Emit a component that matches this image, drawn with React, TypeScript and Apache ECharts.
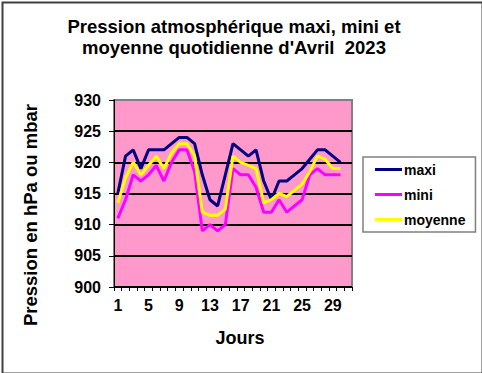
import React, { useEffect, useRef } from "react";
import * as echarts from "echarts";

const days = ["1","2","3","4","5","6","7","8","9","10","11","12","13","14","15","16","17","18","19","20","21","22","23","24","25","26","27","28","29","30","31"];
const maxi = [915, 921, 922, 919, 922, 922, 922, 923, 924, 924, 923, 918, 914, 913, 918, 923, 922, 921, 922, 917, 914, 917, 917, 918, 919, 920.5, 922, 922, 921, 920];
const mini = [911, 914, 918, 917, 918, 919.5, 917, 920, 922, 922, 918.5, 909, 910, 909, 910, 919, 918, 918, 916, 912, 912, 914, 912, 913, 914, 918, 919, 918, 918, 918];
const moyenne = [913.5, 917.5, 920, 918, 919.5, 921, 919, 921.5, 923, 923, 921, 912, 911.5, 911.5, 912.5, 921, 920, 919.5, 919, 913.5, 914, 915, 914.5, 915.5, 916.5, 918.5, 921, 920.5, 919, 919];
const seriesNames = ["maxi", "mini", "moyenne"];
const seriesColors = ["#000080", "#FF00FF", "#FFFF00"];
const titleLines = ["Pression atmosphérique maxi, mini et", "moyenne quotidienne d'Avril  2023"];
const yName = "Pression en hPa ou mbar";
const xName = "Jours";

const FONT = "'Liberation Sans', Arial, sans-serif";

export default function App() {
  const ref = useRef<HTMLDivElement>(null);
  useEffect(() => {
    if (!ref.current) return;
    const chart = echarts.init(ref.current, undefined, { renderer: "svg" });
    const data = [maxi, mini, moyenne];
    chart.setOption({
      animation: false,
      backgroundColor: "#ffffff",
      grid: {
        left: 114,
        right: 130,
        top: 100,
        bottom: 86,
        show: true,
        backgroundColor: "#FF99CC",
        borderColor: "#808080",
        borderWidth: 2,
      },
      xAxis: {
        type: "category",
        data: days,
        boundaryGap: true,
        axisLine: { show: true, lineStyle: { color: "#000", width: 1 } },
        axisTick: { show: true, interval: 0, length: 4, lineStyle: { color: "#000" } },
        axisLabel: {
          interval: 3,
          margin: 10,
          fontFamily: FONT,
          fontWeight: "bold",
          fontSize: 16,
          color: "#000",
        },
        splitLine: { show: false },
      },
      yAxis: {
        type: "value",
        min: 900,
        max: 930,
        interval: 5,
        axisLine: { show: true, lineStyle: { color: "#000", width: 1 } },
        axisTick: { show: true, length: 5, lineStyle: { color: "#000" } },
        axisLabel: {
          margin: 13,
          fontFamily: FONT,
          fontWeight: "bold",
          fontSize: 16,
          color: "#000",
        },
        splitLine: {
          show: true,
          lineStyle: {
            color: ["#000", "#000", "#000", "#000", "#000", "#000", "#808080"],
            width: 2,
          },
        },
      },
      legend: {
        orient: "vertical",
        left: 363,
        top: 157,
        padding: [5, 10, 5, 12],
        itemGap: 10,
        itemWidth: 27,
        itemHeight: 3,
        itemStyle: { borderWidth: 0 },
        borderColor: "#808080",
        borderWidth: 1.5,
        textStyle: {
          fontFamily: FONT,
          fontWeight: "bold",
          fontSize: 14,
          color: "#000",
          lineHeight: 15,
          padding: [0, 0, 0, -3],
        },
        data: seriesNames.map((n) => ({ name: n, icon: "rect" })),
      },
      series: seriesNames.map((name, i) => ({
        name,
        type: "line",
        data: data[i],
        symbol: "none",
        color: seriesColors[i],
        lineStyle: { color: seriesColors[i], width: 3 },
      })),
      graphic: [
        {
          type: "rect",
          left: 0,
          top: 0,
          shape: { x: 1, y: 1, width: 480, height: 371 },
          style: { fill: "none", stroke: "#404040", lineWidth: 2 },
          silent: true,
        },
        {
          type: "text",
          x: 234,
          y: 26,
          style: {
            text: titleLines[0],
            align: "center",
            verticalAlign: "middle",
            font: `bold 18.5px ${FONT}`,
            fill: "#000",
          },
        },
        {
          type: "text",
          x: 234,
          y: 47,
          style: {
            text: titleLines[1],
            align: "center",
            verticalAlign: "middle",
            font: `bold 18.5px ${FONT}`,
            fill: "#000",
          },
        },
        {
          type: "text",
          x: 30,
          y: 215,
          rotation: Math.PI / 2,
          style: {
            text: yName,
            align: "center",
            verticalAlign: "middle",
            font: `bold 18.5px ${FONT}`,
            fill: "#000",
          },
        },
        {
          type: "text",
          x: 240,
          y: 338,
          style: {
            text: xName,
            align: "center",
            verticalAlign: "middle",
            font: `bold 18px ${FONT}`,
            fill: "#000",
          },
        },
      ],
    });
    return () => chart.dispose();
  }, []);
  return (
    <div
      ref={ref}
      style={{ position: "fixed", left: 0, top: 0, width: 482, height: 373 }}
    />
  );
}
